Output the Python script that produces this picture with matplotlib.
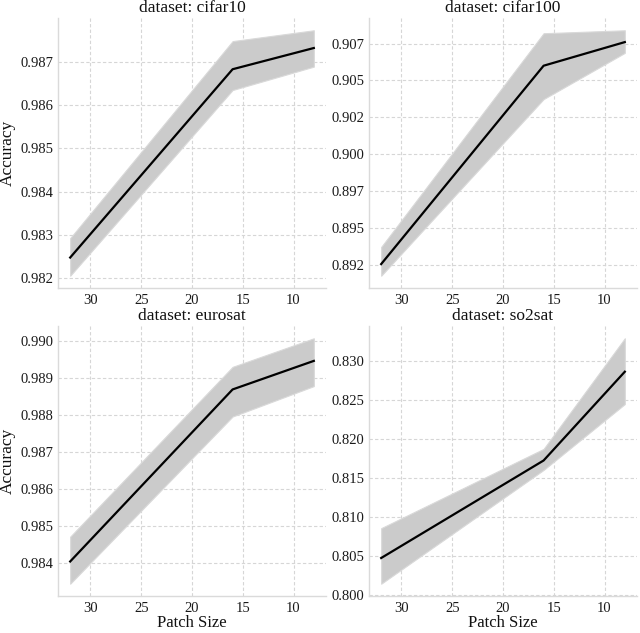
import matplotlib
matplotlib.use("Agg")
import matplotlib.pyplot as plt

plt.rcParams["font.family"] = ["Liberation Serif", "DejaVu Serif"]

patch_sizes = [32, 16, 8]
x_ticks = [30, 25, 20, 15, 10]

titles = ["dataset: cifar10", "dataset: cifar100", "dataset: eurosat", "dataset: so2sat"]

cifar10_mean = [0.98248, 0.98683, 0.98732]
cifar10_low = [0.98206, 0.98635, 0.98689]
cifar10_high = [0.98293, 0.98748, 0.98773]
cifar10_ticks = [0.982, 0.983, 0.984, 0.985, 0.986, 0.987]
cifar10_labels = ["0.982", "0.983", "0.984", "0.985", "0.986", "0.987"]

cifar100_mean = [0.89257, 0.90600, 0.90760]
cifar100_low = [0.89178, 0.90374, 0.90687]
cifar100_high = [0.89373, 0.90820, 0.90840]
cifar100_ticks = [0.8925, 0.895, 0.8975, 0.900, 0.9025, 0.905, 0.9075]
cifar100_labels = ["0.892", "0.895", "0.897", "0.900", "0.902", "0.905", "0.907"]

eurosat_mean = [0.98405, 0.98869, 0.98946]
eurosat_low = [0.98345, 0.98796, 0.98878]
eurosat_high = [0.98472, 0.98930, 0.99007]
eurosat_ticks = [0.984, 0.985, 0.986, 0.987, 0.988, 0.989, 0.990]
eurosat_labels = ["0.984", "0.985", "0.986", "0.987", "0.988", "0.989", "0.990"]

so2sat_mean = [0.80470, 0.81721, 0.82860]
so2sat_low = [0.80140, 0.81600, 0.82445]
so2sat_high = [0.80853, 0.81870, 0.83289]
so2sat_ticks = [0.800, 0.805, 0.810, 0.815, 0.820, 0.825, 0.830]
so2sat_labels = ["0.800", "0.805", "0.810", "0.815", "0.820", "0.825", "0.830"]

means = [cifar10_mean, cifar100_mean, eurosat_mean, so2sat_mean]
lows = [cifar10_low, cifar100_low, eurosat_low, so2sat_low]
highs = [cifar10_high, cifar100_high, eurosat_high, so2sat_high]
ticks = [cifar10_ticks, cifar100_ticks, eurosat_ticks, so2sat_ticks]
labels = [cifar10_labels, cifar100_labels, eurosat_labels, so2sat_labels]

fig = plt.figure(figsize=(6.4, 6.33), dpi=100)
W, H = 640, 633
boxes = [(58, 18), (369, 18), (58, 326), (369, 326)]
aw, ah = 268, 270

for i, (lx, ty) in enumerate(boxes):
    ax = fig.add_axes([lx / W, 1 - (ty + ah) / H, aw / W, ah / H])
    ax.fill_between(patch_sizes, lows[i], highs[i], facecolor="#cbcbcb",
                    edgecolor="#d9d9d9", linewidth=0.8)
    ax.plot(patch_sizes, means[i], color="black", linewidth=1.6)
    ax.set_xlim(33.2, 6.8)
    ax.set_xticks(x_ticks)
    ax.set_yticks(ticks[i])
    ax.set_yticklabels(labels[i])
    ax.grid(True, linestyle=(0, (3, 2)), color="#d6d6d6", linewidth=0.8)
    ax.set_axisbelow(True)
    for s in ["top", "right"]:
        ax.spines[s].set_visible(False)
    for s in ["left", "bottom"]:
        ax.spines[s].set_color("#dadada")
        ax.spines[s].set_linewidth(1.0)
    ax.tick_params(axis="both", length=0, labelsize=10.5, colors="#1a1a1a")
    ax.tick_params(axis="y", pad=3.5)
    ax.tick_params(axis="x", pad=4)
    ax.set_title(titles[i], fontsize=12.5, pad=4, color="#111111")
    if i % 2 == 0:
        ax.set_ylabel("Accuracy", fontsize=12.5, labelpad=3, color="#111111")
    if i >= 2:
        ax.set_xlabel("Patch Size", fontsize=12, labelpad=0, color="#111111")

fig.savefig("out.png", dpi=100)
